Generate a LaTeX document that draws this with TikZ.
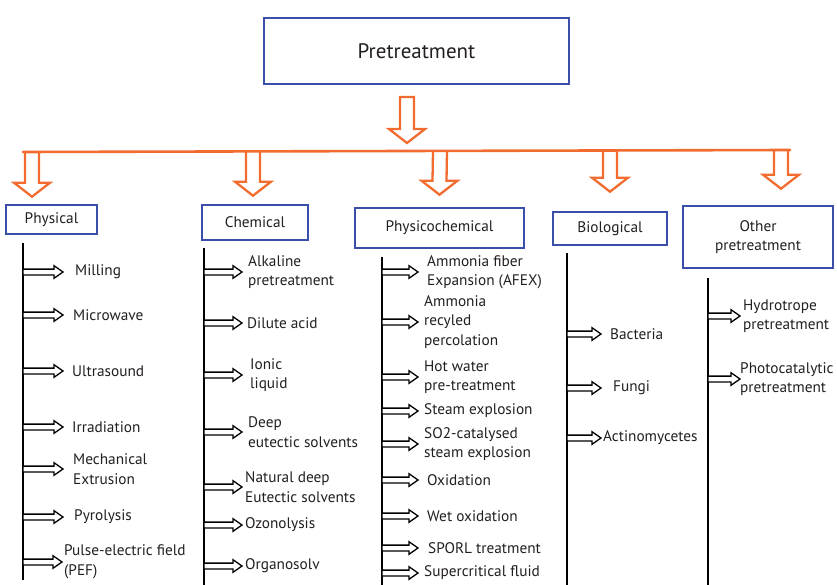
\documentclass[tikz,border=0pt]{standalone}
\usepackage{fontspec}
\setmainfont{PT Sans}
\definecolor{boxBlue}{RGB}{58,78,170}
\definecolor{flowOrange}{RGB}{242,108,48}
\definecolor{inkGray}{RGB}{35,31,32}
\tikzset{
  catbox/.style={draw=boxBlue, line width=2.6pt, fill=white, align=center, text=inkGray, font=\fontsize{15.3}{19.5}\selectfont},
  item/.style={anchor=west, align=left, inner sep=0pt, text=inkGray, font=\fontsize{15.3}{19.5}\selectfont},
  stem/.style={line width=2.4pt, draw=black},
  % hollow block arrows, pointing down / right
  downflow/.style={draw=flowOrange, fill=white, line width=2.3pt, line join=miter,
    to path={([xshift=-7pt]\tikztostart) -- ([xshift=-7pt,yshift=14pt]\tikztotarget)
      -- ([xshift=-18pt,yshift=14pt]\tikztotarget) -- (\tikztotarget)
      -- ([xshift=18pt,yshift=14pt]\tikztotarget) -- ([xshift=7pt,yshift=14pt]\tikztotarget)
      -- ([xshift=7pt]\tikztostart)}},
  rightflow/.style={draw=black, fill=white, line width=1.3pt, line join=miter,
    to path={([yshift=2.9pt]\tikztostart) -- ([xshift=-9pt,yshift=2.9pt]\tikztotarget)
      -- ([xshift=-9pt,yshift=6.3pt]\tikztotarget) -- (\tikztotarget)
      -- ([xshift=-9pt,yshift=-6.3pt]\tikztotarget) -- ([xshift=-9pt,yshift=-2.9pt]\tikztotarget)
      -- ([yshift=-2.9pt]\tikztostart) -- cycle}}
}

\begin{document}
\begin{tikzpicture}[x=1pt, y=-1pt]
  \useasboundingbox (0,0) rectangle (837,585);

  % top of the tree
  \node[catbox, minimum width=305pt, minimum height=66pt, font=\fontsize{21}{25}\selectfont] (pre) at (416.5,51) {Pretreatment};
  \coordinate (pretop) at (407,97);
  \coordinate (pretip) at (407,143);
  \draw[downflow] (pretop) to (pretip) -- cycle;

  \coordinate (barW) at (23,152);
  \coordinate (barE) at (790,150);

  % the five branches
  \node[catbox, minimum width=91pt, minimum height=29pt] (phy) at (51.5,219.5) {Physical};
  \node[catbox, minimum width=106pt, minimum height=35pt] (chem) at (255,222.5) {Chemical};
  \node[catbox, minimum width=169pt, minimum height=40pt] (pchem) at (439.5,228) {Physicochemical};
  \node[catbox, minimum width=114pt, minimum height=33pt] (bio) at (610,228.5) {Biological};
  \node[catbox, minimum width=150pt, minimum height=62pt] (oth) at (758,237) {Other\\pretreatment};

  \draw[downflow] (32,152) to ([yshift=7pt]phy.north -| 32,0);
  \draw[downflow] (253,151.5) to ([yshift=8pt]chem.north -| 253,0);
  \draw[downflow] (440,151) to ([yshift=12pt]pchem.north);
  \draw[downflow] (610,150.5) to ([yshift=19pt]bio.north);
  \draw[downflow] (781,150) to ([yshift=16pt]oth.north -| 781,0);
  \draw[draw=flowOrange, line width=2.6pt, line cap=round] (barW) -- (barE);

  % physical
  \coordinate (phyline) at (23,243);
  \coordinate (phyend) at (63,0);
  \draw[stem] (phyline) -- (23,580);
  \node[item] (mill) at (75,272) {Milling};
  \node[item] (micro) at (73,315) {Microwave};
  \node[item] (ultra) at (72,371) {Ultrasound};
  \node[item] (irra) at (72,427) {Irradiation};
  \node[item] (mech) at (73,469) {Mechanical\\Extrusion};
  \node[item] (pyro) at (74,517) {Pyrolysis};
  \node[item] (pef) at (64,562) {Pulse-electric field\\(PEF)};
  \draw[rightflow] (phyline |- mill) to (phyend |- mill);
  \draw[rightflow] (phyline |- micro) to (phyend |- micro);
  \draw[rightflow] (phyline |- ultra) to (phyend |- ultra);
  \draw[rightflow] (phyline |- irra) to (phyend |- irra);
  \draw[rightflow] (phyline |- mech) to (phyend |- mech);
  \draw[rightflow] (phyline |- pyro) to (phyend |- pyro);
  \draw[rightflow] (phyline |- pef) to ([xshift=-2pt]pef.west);

  % chemical
  \coordinate (chemline) at (204,248);
  \coordinate (chemend) at (242,0);
  \draw[stem] (chemline) -- (204,585);
  \node[item] (alk) at (248,272) {Alkaline\\pretreatment};
  \node[item] (dil) at (247,323) {Dilute acid};
  \node[item] (ion) at (250,375) {Ionic\\liquid};
  \node[item] (des) at (248,432) {Deep\\eutectic solvents};
  \node[item] (ndes) at (245,487) {Natural deep\\Eutectic solvents};
  \node[item] (ozo) at (245,525) {Ozonolysis};
  \node[item] (org) at (245,566) {Organosolv};
  \draw[rightflow] (chemline |- alk) to (chemend |- alk);
  \draw[rightflow] (chemline |- dil) to (chemend |- dil);
  \draw[rightflow] (chemline |- ion) to (chemend |- ion);
  \draw[rightflow] (chemline |- des) to (chemend |- des);
  \draw[rightflow] (chemline |- ndes) to (chemend |- ndes);
  \draw[rightflow] (chemline |- ozo) to (chemend |- ozo);
  \draw[rightflow] (chemline |- org) to (chemend |- org);

  % physicochemical
  \coordinate (pcline) at (382,257);
  \coordinate (pcend) at (418,0);
  \draw[stem] (pcline) -- (382,585);
  \node[item] (afex) at (427,272) {Ammonia fiber\\Expansion (AFEX)};
  \node[item] (arp) at (424,322) {Ammonia\\recyled\\percolation};
  \node[item] (hot) at (424,377) {Hot water\\pre-treatment};
  \node[item] (steam) at (424,411) {Steam explosion};
  \node[item] (so2) at (424,444) {SO2-catalysed\\steam explosion};
  \node[item] (oxi) at (427,480) {Oxidation};
  \node[item] (wet) at (427,516) {Wet oxidation};
  \node[item] (sporl) at (428,548) {SPORL treatment};
  \node[item] (scf) at (424,573) {Supercritical fluid};
  \draw[rightflow] (pcline |- afex) to (pcend |- afex);
  \draw[rightflow] (pcline |- arp) to (pcend |- arp);
  \draw[rightflow] (pcline |- hot) to (pcend |- hot);
  \draw[rightflow] (pcline |- steam) to (pcend |- steam);
  \draw[rightflow] (pcline |- so2) to (pcend |- so2);
  \draw[rightflow] (pcline |- oxi) to (pcend |- oxi);
  \draw[rightflow] (pcline |- wet) to (pcend |- wet);
  \draw[rightflow] (pcline |- sporl) to (pcend |- sporl);
  \draw[rightflow] (pcline |- scf) to (pcend |- scf);

  % biological
  \coordinate (bioline) at (567,253);
  \coordinate (bioend) at (601,0);
  \draw[stem] (bioline) -- (567,585);
  \node[item] (bac) at (610,334) {Bacteria};
  \node[item] (fun) at (613,388) {Fungi};
  \node[item] (act) at (603,438) {Actinomycetes};
  \draw[rightflow] (bioline |- bac) to (bioend |- bac);
  \draw[rightflow] (bioline |- fun) to (bioend |- fun);
  \draw[rightflow] (bioline |- act) to (bioend |- act);

  % other pretreatment
  \coordinate (othline) at (708,278);
  \coordinate (othend) at (740,0);
  \draw[stem] (othline) -- (708,585);
  \node[item] (hyd) at (743,316) {Hydrotrope\\pretreatment};
  \node[item] (photo) at (740,379) {Photocatalytic\\pretreatment};
  \draw[rightflow] (othline |- hyd) to (othend |- hyd);
  \draw[rightflow] (othline |- photo) to (othend |- photo);
\end{tikzpicture}
\end{document}
